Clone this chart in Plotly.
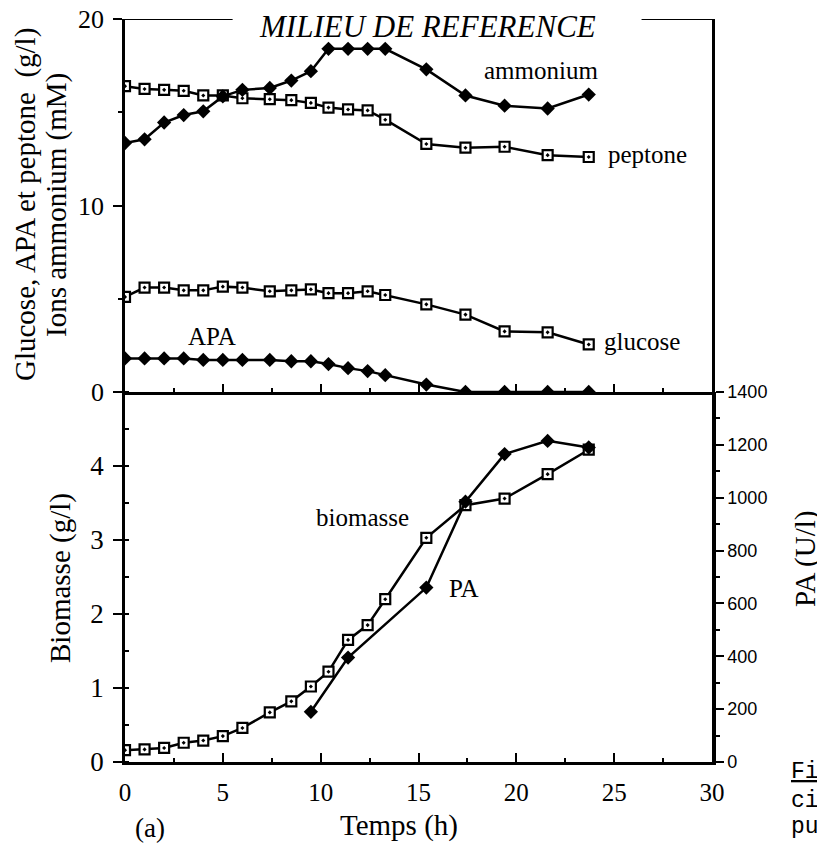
import plotly.graph_objects as go

# ---- data ----
temps = [0, 1, 2, 3, 4, 5, 6, 7.4, 8.5, 9.5, 10.4, 11.4, 12.4, 13.3, 15.4, 17.4, 19.4, 21.6, 23.7]
peptone = [16.4, 16.25, 16.2, 16.15, 15.9, 15.9, 15.75, 15.7, 15.65, 15.5, 15.25, 15.15, 15.1, 14.6,
           13.3, 13.1, 13.15, 12.7, 12.6]
ammonium = [13.35, 13.55, 14.45, 14.85, 15.05, 15.85, 16.2, 16.3, 16.7, 17.2, 18.4, 18.4, 18.4, 18.4,
            17.3, 15.9, 15.35, 15.2, 15.95]
glucose = [5.1, 5.6, 5.6, 5.45, 5.45, 5.65, 5.6, 5.4, 5.45, 5.5, 5.3, 5.3, 5.4, 5.2,
           4.7, 4.15, 3.25, 3.2, 2.55]
apa = [1.8, 1.8, 1.8, 1.8, 1.72, 1.72, 1.72, 1.72, 1.65, 1.65, 1.5, 1.28, 1.12, 0.9,
       0.4, 0.0, 0.0, 0.0, 0.0]
biomasse = [0.16, 0.17, 0.19, 0.26, 0.29, 0.35, 0.46, 0.67, 0.82, 1.02, 1.22, 1.65, 1.85, 2.2,
            3.03, 3.47, 3.56, 3.89, 4.22]
temps_pa = [9.5, 11.4, 15.4, 17.4, 19.4, 21.6, 23.7]
pa = [190, 395, 660, 985, 1165, 1215, 1190]

x_ticks = [0, 5, 10, 15, 20, 25, 30]
top_ticks = [0, 10, 20]
bio_ticks = [0, 1, 2, 3, 4]
pa_ticks = [0, 200, 400, 600, 800, 1000, 1200, 1400]

# ---- layout geometry (page pixels; the page body has an 8px margin) ----
OFF = 8
W, H = 825 - OFF, 845 - OFF
L, T, B = 125 - OFF, 19 - OFF, 83
PLOT_R = 712
R = 825 - PLOT_R
PW, PH = W - L - R, H - T - B
Y_BOTTOM = 762


def px(x):
    return (x - 125) / PW


def py(y):
    return (Y_BOTTOM - y) / PH


SERIF = "Liberation Serif, Times New Roman, serif"
SANS = "Liberation Sans, Arial, sans-serif"
MONO = "Liberation Mono, Courier New, monospace"

line = dict(color="black", width=2.5)
sq = dict(symbol="square-dot", size=10, color="white", line=dict(width=2.2, color="black"))
dia = dict(symbol="diamond", size=11, color="black", line=dict(width=0))

fig = go.Figure()
fig.add_trace(go.Scatter(x=temps, y=peptone, mode="lines+markers", line=line, marker=sq, xaxis="x", yaxis="y"))
fig.add_trace(go.Scatter(x=temps, y=ammonium, mode="lines+markers", line=line, marker=dia, xaxis="x", yaxis="y"))
fig.add_trace(go.Scatter(x=temps, y=glucose, mode="lines+markers", line=line, marker=sq, xaxis="x", yaxis="y"))
fig.add_trace(go.Scatter(x=temps, y=apa, mode="lines+markers", line=line, marker=dia, xaxis="x", yaxis="y"))
fig.add_trace(go.Scatter(x=temps, y=biomasse, mode="lines+markers", line=line, marker=sq, xaxis="x2", yaxis="y2"))
fig.add_trace(go.Scatter(x=temps_pa, y=pa, mode="lines+markers", line=line, marker=dia, xaxis="x2", yaxis="y3"))

split = (Y_BOTTOM - 392) / PH

axis_common = dict(showgrid=False, zeroline=False, showline=True, linecolor="black",
                   tickcolor="black", fixedrange=True, automargin=False, ticklabeloverflow="allow")

fig.update_layout(
    width=W, height=H,
    margin=dict(l=L, r=R, t=T, b=B, autoexpand=False),
    paper_bgcolor="white", plot_bgcolor="white",
    showlegend=False,
    font=dict(family=SERIF, color="black"),
    xaxis=dict(axis_common, domain=[0, 1], anchor="y", range=[0, 30], linewidth=2.5,
               tickvals=x_ticks, ticks="inside", ticklen=8, tickwidth=2, showticklabels=False,
               minor=dict(dtick=2.5, ticks="inside", ticklen=4, tickwidth=2, tickcolor="black")),
    xaxis2=dict(axis_common, domain=[0, 1], anchor="y2", range=[0, 30], linewidth=2.5,
                tickvals=x_ticks, ticks="inside", ticklen=9, tickwidth=2, ticklabelstandoff=6,
                tickfont=dict(family=SERIF, size=25),
                minor=dict(dtick=2.5, ticks="inside", ticklen=4, tickwidth=2, tickcolor="black")),
    yaxis=dict(axis_common, domain=[split, 1], anchor="x", range=[0, 20], linewidth=2.5, mirror=True,
               tickvals=top_ticks, ticks="outside", ticklen=9, tickwidth=2, ticklabelstandoff=4,
               tickfont=dict(family=SERIF, size=26),
               minor=dict(tickvals=[5, 15], ticks="outside", ticklen=4, tickwidth=2, tickcolor="black")),
    yaxis2=dict(axis_common, domain=[0, split], anchor="x2", range=[0, 5], linewidth=2.5,
                tickvals=bio_ticks, ticks="outside", ticklen=9, tickwidth=2, ticklabelstandoff=4,
                tickfont=dict(family=SERIF, size=27),
                minor=dict(dtick=0.5, ticks="inside", ticklen=4, tickwidth=2, tickcolor="black")),
    yaxis3=dict(axis_common, overlaying="y2", anchor="x2", side="right", range=[0, 1400], linewidth=3.5,
                tickvals=pa_ticks, ticks="outside", ticklen=8, tickwidth=2,
                tickfont=dict(family=SANS, size=18),
                minor=dict(dtick=100, ticks="outside", ticklen=4, tickwidth=2, tickcolor="black")),
)

# top frame of upper panel, interrupted by the title
fig.add_shape(type="line", xref="x", yref="y", x0=-0.4, x1=5.5, y0=20, y1=20, line=dict(color="black", width=2))
fig.add_shape(type="line", xref="x", yref="y", x0=26.4, x1=30, y0=20, y1=20, line=dict(color="black", width=2))


def ann(text, x, y, size=25, xanchor="center", angle=0, family=SERIF):
    fig.add_annotation(text=text, x=px(x), y=py(y), xref="paper", yref="paper", showarrow=False,
                       xanchor=xanchor, yanchor="middle", textangle=angle,
                       font=dict(family=family, size=size, color="black"))


ann("<i>MILIEU DE REFERENCE</i>", 427, 26, size=31)
ann("ammonium", 541, 70)
ann("peptone", 606, 155, xanchor="left")
ann("glucose", 602, 342, xanchor="left")
ann("APA", 212, 337)
ann("biomasse", 362, 517)
ann("PA", 464, 588)
ann("Temps (h)", 399, 825, size=29)
ann("(a)", 150, 828, size=27)
ann("Glucose, APA et peptone&nbsp; (g/l)", 26, 205, size=29, angle=-90)
ann("Ions ammonium (mM)", 57, 205, size=29, angle=-90)
ann("Biomasse (g/l)", 60, 578, size=29, angle=-90)
ann("PA (U/l)", 805, 559, size=29, angle=-90)
ann("<u>Fi</u>", 789, 772, size=23, xanchor="left", family=MONO)
ann("ci", 789, 801, size=23, xanchor="left", family=MONO)
ann("pu", 789, 827, size=23, xanchor="left", family=MONO)

fig.write_html("out.html")
